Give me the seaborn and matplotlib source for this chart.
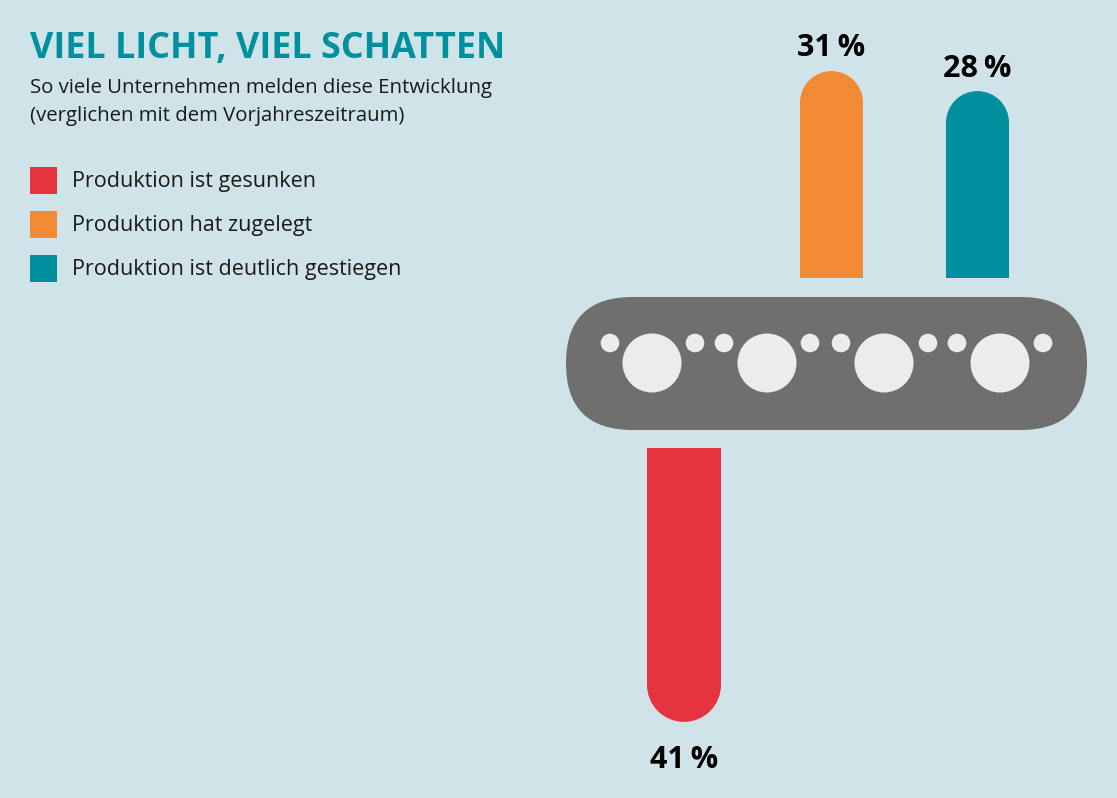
import seaborn as sns
import matplotlib.pyplot as plt
import pandas as pd
from matplotlib.patches import Ellipse, Rectangle, FancyBboxPatch, Circle

# data
categories = ['Produktion ist gesunken', 'Produktion hat zugelegt', 'Produktion ist deutlich gestiegen']
values = [41, 31, 28]
colors = ['#e63340', '#f28a33', '#008f9c']
labels = ['41\u2009%', '31\u2009%', '28\u2009%']

title = 'VIEL LICHT, VIEL SCHATTEN'
subtitle = ['So viele Unternehmen melden diese Entwicklung',
            '(verglichen mit dem Vorjahreszeitraum)']

bg = '#cfe3e8'
ink = '#1a1a1a'
font = ['Open Sans', 'DejaVu Sans']

df = pd.DataFrame({'cat': categories, 'val': values, 'label': labels})
palette = dict(zip(categories, colors))

W, H = 1117, 798
fig = plt.figure(figsize=(W / 100, H / 100), dpi=100)
fig.patch.set_facecolor(bg)

# background axes in pixel space for text, legend and the belt
bgax = fig.add_axes([0, 0, 1, 1])
bgax.set_xlim(0, W)
bgax.set_ylim(H, 0)
bgax.axis('off')

bgax.text(30, 58, title, color='#00909e', fontsize=25.8, fontweight='bold',
          family=font, va='baseline', ha='left')
for i, line in enumerate(subtitle):
    bgax.text(30, 93 + i * 28, line, color=ink, fontsize=14.7, family=font,
              va='baseline', ha='left')

for i, (c, col) in enumerate(zip(categories, colors)):
    y = 180 + i * 44
    bgax.add_patch(Rectangle((30, y - 13.5), 27, 27, color=col, lw=0))
    bgax.text(72, y + 7.5, c, color=ink, fontsize=15.5, family=font, va='baseline', ha='left')

# belt
bgax.add_patch(FancyBboxPatch((566, 297), 521, 133,
                              boxstyle='round,pad=0,rounding_size=66.5',
                              fc='#6f6f6d', ec='none'))
for cx in [652, 767, 884, 1000]:
    bgax.add_patch(Circle((cx, 363), 29.5, fc='#ececec', ec='none'))
for cx in [610, 695, 724, 810, 841, 928, 957, 1043]:
    bgax.add_patch(Circle((cx, 343), 9.3, fc='#ececec', ec='none'))


def px_to_fig(x0, y0, x1, y1):
    return [x0 / W, 1 - y1 / H, (x1 - x0) / W, (y1 - y0) / H]


def round_caps(ax, bar_px):
    # turn the flat bar end into a half circle
    ylo, yhi = sorted(ax.get_ylim())
    h_px = ax.get_position().height * H
    r = (bar_px / 2) * (yhi - ylo) / h_px
    for p in list(ax.patches):
        x, w, v = p.get_x(), p.get_width(), p.get_height()
        p.set_height(v - r)
        ax.add_patch(Ellipse((x + w / 2, v - r), w, 2 * r, fc=p.get_facecolor(), ec='none'))


# upper bars (rising production)
up = df.iloc[1:]
ax1 = fig.add_axes(px_to_fig(758.5, 11, 1050.5, 278))
sns.barplot(data=up, x='cat', y='val', hue='cat', palette=palette, saturation=1,
            width=63 / 146, legend=False, ax=ax1)
ax1.set_xlim(-0.5, 1.5)
ax1.set_ylim(0, 40)
ax1.axis('off')
round_caps(ax1, 63)
for i, (v, lab) in enumerate(zip(up['val'], up['label'])):
    ax1.annotate(lab, (i, v), xytext=(0, 10.5), textcoords='offset points',
                 ha='center', va='baseline', fontsize=22, fontweight='bold',
                 color='black', family=font)

# lower bar (falling production)
down = df.iloc[:1]
ax2 = fig.add_axes(px_to_fig(610, 448, 758, 782))
sns.barplot(data=down, x='cat', y='val', hue='cat', palette=palette, saturation=1,
            width=74 / 148, legend=False, ax=ax2)
ax2.set_xlim(-0.5, 0.5)
ax2.set_ylim(0, 50)
ax2.invert_yaxis()
ax2.axis('off')
round_caps(ax2, 74)
for i, (v, lab) in enumerate(zip(down['val'], down['label'])):
    ax2.annotate(lab, (i, v), xytext=(0, -33), textcoords='offset points',
                 ha='center', va='baseline', fontsize=22, fontweight='bold',
                 color='black', family=font)

fig.savefig('out.png', dpi=100, facecolor=bg)
